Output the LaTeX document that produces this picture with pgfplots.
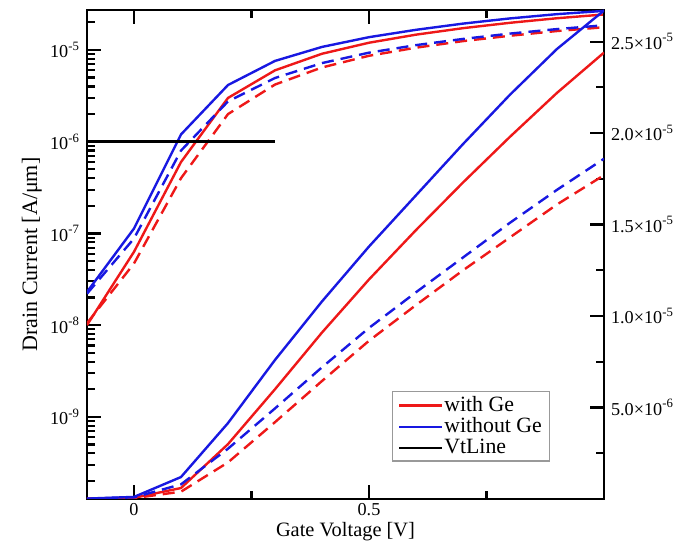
\documentclass[border=0pt]{standalone}
\usepackage{fontspec}
\setmainfont{Liberation Serif}
\usepackage{pgfplots}
\usepackage{pgfplotstable}
\pgfplotsset{compat=1.18}
\definecolor{cred}{RGB}{238,24,24}
\definecolor{cblue}{RGB}{24,24,225}

\pgfplotstableread{
x rs bs rd bd
-0.1 1.0e-8 2.3e-8 1.05e-8 2.2e-8
0.0 6.3e-8 1.13e-7 4.7e-8 8.8e-8
0.1 6.0e-7 1.2e-6 4.0e-7 8.0e-7
0.2 3.0e-6 4.15e-6 2.0e-6 2.75e-6
0.3 6.0e-6 7.6e-6 4.2e-6 4.95e-6
0.4 9.1e-6 1.08e-5 6.45e-6 7.2e-6
0.5 1.2e-5 1.38e-5 8.65e-6 9.35e-6
0.6 1.47e-5 1.66e-5 1.06e-5 1.13e-5
0.7 1.73e-5 1.94e-5 1.25e-5 1.32e-5
0.8 1.98e-5 2.21e-5 1.43e-5 1.51e-5
0.9 2.22e-5 2.46e-5 1.61e-5 1.69e-5
1.0 2.44e-5 2.67e-5 1.77e-5 1.86e-5
}\data

\begin{document}
\begin{tikzpicture}
\pgfplotsset{
  common/.style={
    scale only axis, width=258.5pt, height=244.5pt,
    xmin=-0.1, xmax=1.0,
    tick align=inside,
    major tick length=7pt, minor tick length=3.8pt,
    every tick/.style={black, line width=1.1pt},
    axis line style={line width=1.4pt},
    tick label style={font=\fontsize{9.1}{10}\selectfont},
  },
  solidline/.style={line width=1.2pt},
  dashline/.style={line width=1.2pt, dash pattern=on 6pt off 3.5pt},
}
\begin{axis}[common, name=main,
  ymode=log, ymin=1.27e-10, ymax=2.73e-5,
  xtick={0,0.5}, xticklabels={0,0.5}, minor xtick={0.25,0.75},
  ytick={1e-9,1e-8,1e-7,1e-6,1e-5},
  yticklabels={10\textsuperscript{-9},10\textsuperscript{-8},10\textsuperscript{-7},10\textsuperscript{-6},10\textsuperscript{-5}},
  minor ytick={2e-10,3e-10,4e-10,5e-10,6e-10,7e-10,8e-10,9e-10,
    2e-9,3e-9,4e-9,5e-9,6e-9,7e-9,8e-9,9e-9,
    2e-8,3e-8,4e-8,5e-8,6e-8,7e-8,8e-8,9e-8,
    2e-7,3e-7,4e-7,5e-7,6e-7,7e-7,8e-7,9e-7,
    2e-6,3e-6,4e-6,5e-6,6e-6,7e-6,8e-6,9e-6,2e-5},
  ytick pos=left, xtick pos=both,
  xticklabel style={inner sep=2pt},
  xlabel={Gate Voltage [V]}, ylabel={Drain Current [A/μm]},
  label style={font=\fontsize{11}{13}\selectfont},
  xlabel style={font=\fontsize{10.2}{12}\selectfont, at={(axis description cs:0.5,-0.0875)}, anchor=south, inner sep=0pt},
  ylabel style={at={(axis description cs:-0.1267,0.5)}, anchor=north, inner sep=0pt},
]
\addplot[cred, solidline] table[x=x,y=rs]{\data};
\addplot[cblue, solidline] table[x=x,y=bs]{\data};
\addplot[cred, dashline] table[x=x,y=rd]{\data};
\addplot[cblue, dashline] table[x=x,y=bd]{\data};
\addplot[black, line width=1.5pt] coordinates {(-0.1,1e-6) (0.3,1e-6)};
\end{axis}
\begin{axis}[common,
  ymin=0, ymax=2.673e-5,
  axis y line*=right, axis x line=none,
  scaled y ticks=false,
  ytick={5e-6,1e-5,1.5e-5,2e-5,2.5e-5},
  yticklabels={5.0×10\textsuperscript{-6},1.0×10\textsuperscript{-5},1.5×10\textsuperscript{-5},2.0×10\textsuperscript{-5},2.5×10\textsuperscript{-5}},
  minor ytick={2.5e-6,7.5e-6,1.25e-5,1.75e-5,2.25e-5},
  legend style={at={(axis description cs:0.8956,0.0763)}, anchor=south east,
    draw=gray!80, line width=0.6pt, font=\fontsize{10.9}{12}\selectfont,
    inner xsep=3pt, inner ysep=1.5pt, cells={anchor=west},
    nodes={inner sep=0.8pt}},
  legend image code/.code={\draw[#1] (0cm,0cm) -- (0.74cm,0cm);},
]
\addplot[cred, solidline, forget plot] table[x=x,y=rs]{\data};
\addplot[cblue, solidline, forget plot] table[x=x,y=bs]{\data};
\addplot[cred, dashline, forget plot] table[x=x,y=rd]{\data};
\addplot[cblue, dashline, forget plot] table[x=x,y=bd]{\data};
\addlegendimage{cred, line width=1.2pt}\addlegendentry{with Ge}
\addlegendimage{cblue, line width=1.2pt}\addlegendentry{without Ge}
\addlegendimage{black, line width=1.2pt}\addlegendentry{VtLine}
\end{axis}
\pgfresetboundingbox
\useasboundingbox ([shift={(-43.5pt,-22pt)}]main.south west) rectangle ([shift={(45pt,5pt)}]main.north east);
\end{tikzpicture}
\end{document}
